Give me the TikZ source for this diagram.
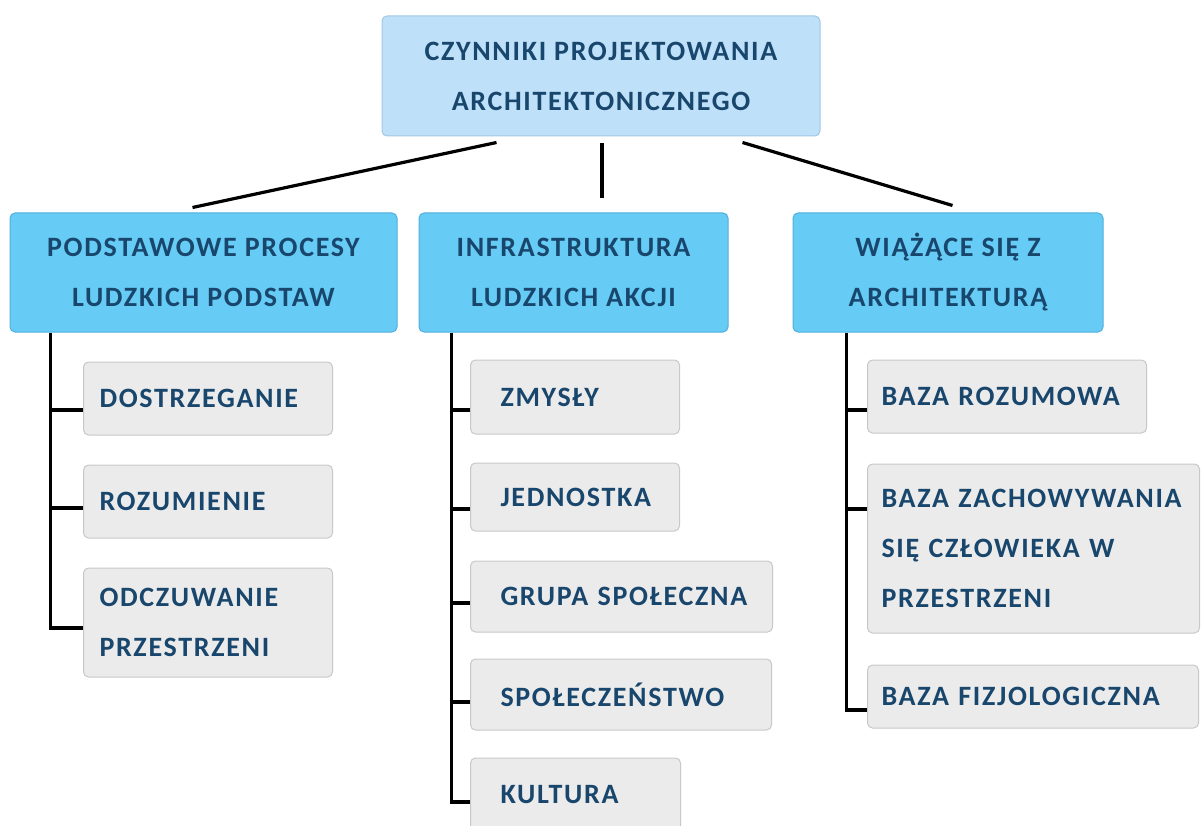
\documentclass[tikz,border=0pt]{standalone}
\usepackage{fontspec}
\setmainfont{Carlito}[LetterSpace=6]
\usepackage{xcolor}
\usepackage{tikz}
\usetikzlibrary{positioning}

\definecolor{txtblue}{RGB}{25,70,108}
\definecolor{topfill}{RGB}{190,224,248}
\definecolor{topline}{RGB}{160,200,230}
\definecolor{midfill}{RGB}{102,204,245}
\definecolor{midline}{RGB}{80,175,220}
\definecolor{leaffill}{RGB}{235,235,235}
\definecolor{leafline}{RGB}{200,200,200}

\begin{document}
\begin{tikzpicture}[x=1pt, y=-1pt,
  every node/.style={font=\fontsize{28}{50}\selectfont\bfseries, text=txtblue, rounded corners=5pt, inner sep=0pt},
  head/.style={draw=topline, fill=topfill, line width=1pt, align=center},
  group/.style={draw=midline, fill=midfill, line width=1pt, align=center, minimum height=119pt},
  leaf/.style={draw=leafline, fill=leaffill, line width=1pt, align=left, anchor=west},
  conn/.style={line width=3.2pt, black}]
  \useasboundingbox (0,0) rectangle (1202,826);
  \node[head, minimum width=438pt, minimum height=120pt] (top) at (601,76) {CZYNNIKI PROJEKTOWANIA\\ARCHITEKTONICZNEGO};
  \node[group, minimum width=387pt] (pod) at (203.5,272.5) {PODSTAWOWE PROCESY\\LUDZKICH PODSTAW};
  \node[group, minimum width=309pt] (inf) at (573.5,272.5) {INFRASTRUKTURA\\LUDZKICH AKCJI};
  \node[group, minimum width=310pt] (wia) at (948,272.5) {WIĄŻĄCE SIĘ Z\\ARCHITEKTURĄ};
  \node[leaf, inner xsep=16pt, text width=217pt, minimum height=73pt] (dos) at (83,398.5) {DOSTRZEGANIE};
  \node[leaf, inner xsep=16pt, text width=217pt, minimum height=73pt] (roz) at (83,501.5) {ROZUMIENIE};
  \node[leaf, inner xsep=16pt, text width=217pt, minimum height=109pt] (odc) at (83,622.5) {ODCZUWANIE\\PRZESTRZENI};
  \node[leaf, inner xsep=30pt, text width=149pt, minimum height=74pt] (zmy) at (470,397) {ZMYSŁY};
  \node[leaf, inner xsep=30pt, text width=149pt, minimum height=68pt] (jed) at (470,497) {JEDNOSTKA};
  \node[leaf, inner xsep=30pt, text width=242pt, minimum height=71pt] (gru) at (470,596.5) {GRUPA~SPOŁECZNA};
  \node[leaf, inner xsep=30pt, text width=241pt, minimum height=71pt] (spo) at (470,694.5) {SPOŁECZEŃSTWO};
  \node[leaf, inner xsep=30pt, text width=150pt, minimum height=73pt] (kul) at (470,794.5) {KULTURA};
  \node[leaf, inner xsep=14pt, text width=251pt, minimum height=73pt] (bro) at (867,396.5) {BAZA~ROZUMOWA};
  \node[leaf, inner xsep=14pt, text width=304pt, minimum height=169pt] (bza) at (867,548.5) {BAZA~ZACHOWYWANIA\\SIĘ~CZŁOWIEKA~W\\PRZESTRZENI};
  \node[leaf, inner xsep=14pt, text width=303pt, minimum height=63pt] (bfi) at (867,696.5) {BAZA~FIZJOLOGICZNA};
  \draw[conn] ([xshift=115pt,yshift=-6pt]top.south west) -- ([xshift=183pt,yshift=5pt]pod.north west);
  \draw[conn] ([xshift=1pt,yshift=-7pt]top.south) -- ++(0,55);
  \draw[conn] ([xshift=-78pt,yshift=-6pt]top.south east) -- ([xshift=160pt,yshift=7pt]wia.north west);
  \draw[conn] ([xshift=41pt]pod.south west) |- ([yshift=-5.5pt]odc.west);
  \draw[conn] ([yshift=-11.5pt]dos.west) -- ++(-32,0);
  \draw[conn] ([yshift=-6.5pt]roz.west) -- ++(-32,0);
  \draw[conn] ([xshift=33pt]inf.south west) |- ([yshift=-7.5pt]kul.west);
  \draw[conn] ([yshift=-13pt]zmy.west) -- ++(-18,0);
  \draw[conn] ([yshift=-12pt]jed.west) -- ++(-18,0);
  \draw[conn] ([yshift=-6.5pt]gru.west) -- ++(-18,0);
  \draw[conn] ([yshift=-7.5pt]spo.west) -- ++(-18,0);
  \draw[conn] ([xshift=54pt]wia.south west) |- ([yshift=-13.5pt]bfi.west);
  \draw[conn] ([yshift=-13.5pt]bro.west) -- ++(-20,0);
  \draw[conn] ([yshift=39.5pt]bza.west) -- ++(-20,0);
\end{tikzpicture}
\end{document}
